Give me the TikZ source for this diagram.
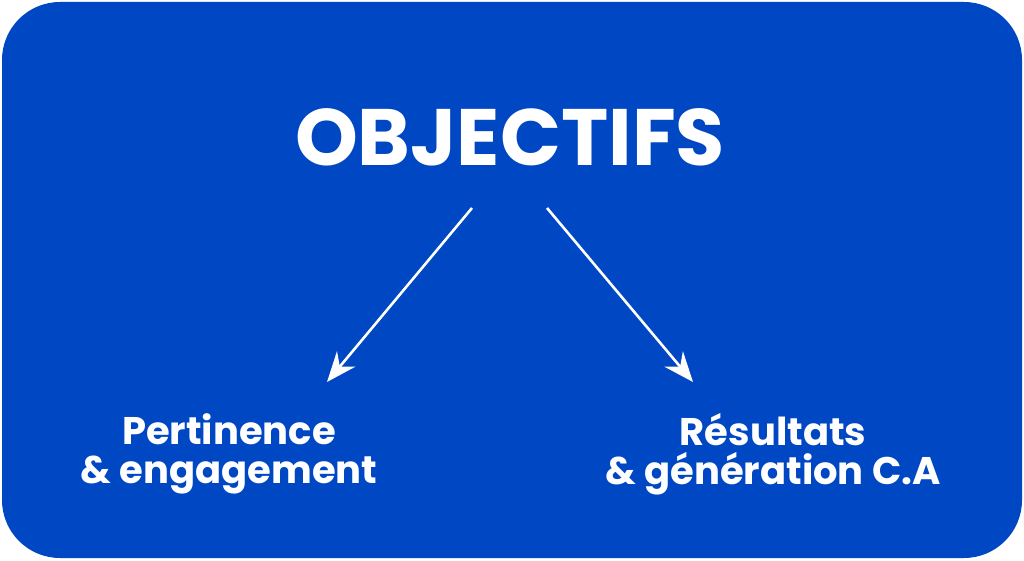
\documentclass[tikz,border=0pt]{standalone}
\usepackage{fontspec}
\setmainfont{Poppins}
\usetikzlibrary{arrows.meta}
\definecolor{fondbleu}{HTML}{0047C4}
\tikzset{
label/.style={text=white, font=\bfseries\fontsize{38.5}{39}\selectfont, align=center}, % texts under the arrows
fleche/.style={draw=white, line width=2.6pt, -{Stealth[length=30pt, width=24pt, inset=10pt]}},
}
\begin{document}
\begin{tikzpicture}[x=1pt,y=1pt]
    \useasboundingbox (0,0) rectangle (1024,560);
    \fill[fondbleu, rounded corners=58pt] (2,2) rectangle (1022,558);
    \node[text=white, font=\bfseries\fontsize{80}{90}\selectfont] (titre) at (510,423) {OBJECTIFS};
    \coordinate (depg) at (472,352);
    \coordinate (depd) at (547,352);
    \node[label] (gauche) at (229,106) {Pertinence\\\& engagement};
    \node[label] (droite) at (773,106) {Résultats\\\& génération C.A};
    \coordinate (fing) at (327,178);
    \coordinate (find) at (693,178);
    \draw[fleche] (depg) -- (fing);
    \draw[fleche] (depd) -- (find);
\end{tikzpicture}
\end{document}
